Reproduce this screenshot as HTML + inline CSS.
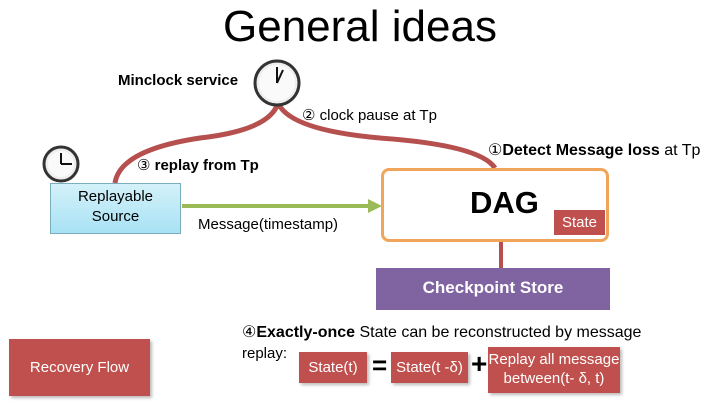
<!DOCTYPE html>
<html><head><style>
body{margin:0;width:720px;height:405px;background:#fff;position:relative;overflow:hidden;font-family:"Liberation Sans",sans-serif}
.a{position:absolute;white-space:nowrap}
.r{position:absolute;background:#c0504d;color:#fff;text-align:center;box-shadow:2px 2px 3px #bbb}
</style></head><body>
<div class="a" style="left:0;width:720px;top:2px;text-align:center;font-size:44px;">General ideas</div>
<svg width="720" height="405" style="position:absolute;left:0;top:0">
<path d="M278 103 Q270 130 200 138 Q120 150 115 183" stroke="#b5504f" stroke-width="5" fill="none"/>
<path d="M278 103 Q290 130 380 138 Q480 145 495 168" stroke="#b5504f" stroke-width="5" fill="none"/>
<line x1="182" y1="206" x2="370" y2="206" stroke="#9bbb59" stroke-width="4"/>
<polygon points="368,199 382,206 368,213" fill="#9bbb59"/>
<line x1="501" y1="242" x2="501" y2="268" stroke="#b5504f" stroke-width="4"/>
<g>
<circle cx="277" cy="83" r="22" fill="#eee" stroke="#333" stroke-width="3"/>
<circle cx="277" cy="83" r="18" fill="#fafafa"/>
<line x1="277" y1="83" x2="277" y2="67" stroke="#111" stroke-width="2"/>
<line x1="277" y1="83" x2="283" y2="70" stroke="#111" stroke-width="2"/>
</g>
<g>
<circle cx="61" cy="164" r="17" fill="#eee" stroke="#333" stroke-width="3"/>
<circle cx="61" cy="164" r="13" fill="#fafafa"/>
<line x1="61" y1="164" x2="61" y2="153" stroke="#111" stroke-width="2"/>
<line x1="61" y1="164" x2="72" y2="164" stroke="#111" stroke-width="2"/>
</g>
</svg>
<div class="a" style="left:118px;top:72px;font-size:15px;font-weight:bold">Minclock service</div>
<div class="a" style="left:302px;top:106px;font-size:15px">② clock pause at Tp</div>
<div class="a" style="left:137px;top:156px;font-size:15px">③ <b>replay from Tp</b></div>
<div class="a" style="left:488px;top:140px;font-size:16px">①<b>Detect Message</b> <b>loss</b> at Tp</div>
<div class="a" style="left:50px;top:183px;width:131px;height:51px;background:linear-gradient(#d4f1f9,#a8e2f4);border:1px solid #7aaebf;text-align:center;font-size:15px;line-height:20px;padding-top:3px;box-sizing:border-box">Replayable<br>Source</div>
<div class="a" style="left:198px;top:216px;font-size:15px">Message(timestamp)</div>
<div class="a" style="left:381px;top:168px;width:228px;height:74px;border:3px solid #f0a55a;border-radius:8px;box-sizing:border-box;background:#fff"></div>
<div class="a" style="left:470px;top:185px;font-size:31px;font-weight:bold">DAG</div>
<div class="r" style="left:554px;top:210px;width:51px;height:25px;line-height:25px;font-size:15px;box-shadow:none">State</div>
<div class="a" style="left:376px;top:268px;width:234px;height:42px;background:#8064a2;color:#fff;text-align:center;line-height:40px;font-size:17px;font-weight:bold">Checkpoint Store</div>
<div class="r" style="left:9px;top:339px;width:141px;height:57px;line-height:57px;font-size:15px">Recovery Flow</div>
<div class="a" style="left:242px;top:322px;font-size:16px">④<b>Exactly-once</b> State can be reconstructed by message</div>
<div class="a" style="left:242px;top:345px;font-size:15px">replay:</div>
<div class="r" style="left:299px;top:352px;width:68px;height:31px;line-height:31px;font-size:15px">State(t)</div>
<div class="a" style="left:372px;top:350px;font-size:26px;font-weight:bold">=</div>
<div class="r" style="left:391px;top:352px;width:77px;height:31px;line-height:31px;font-size:15px">State(t -δ)</div>
<div class="a" style="left:471px;top:348px;font-size:28px;font-weight:bold">+</div>
<div class="r" style="left:488px;top:347px;width:132px;height:46px;font-size:15px;line-height:19px;padding-top:3px;box-sizing:border-box">Replay all message<br>between(t- δ, t)</div>
</body></html>
